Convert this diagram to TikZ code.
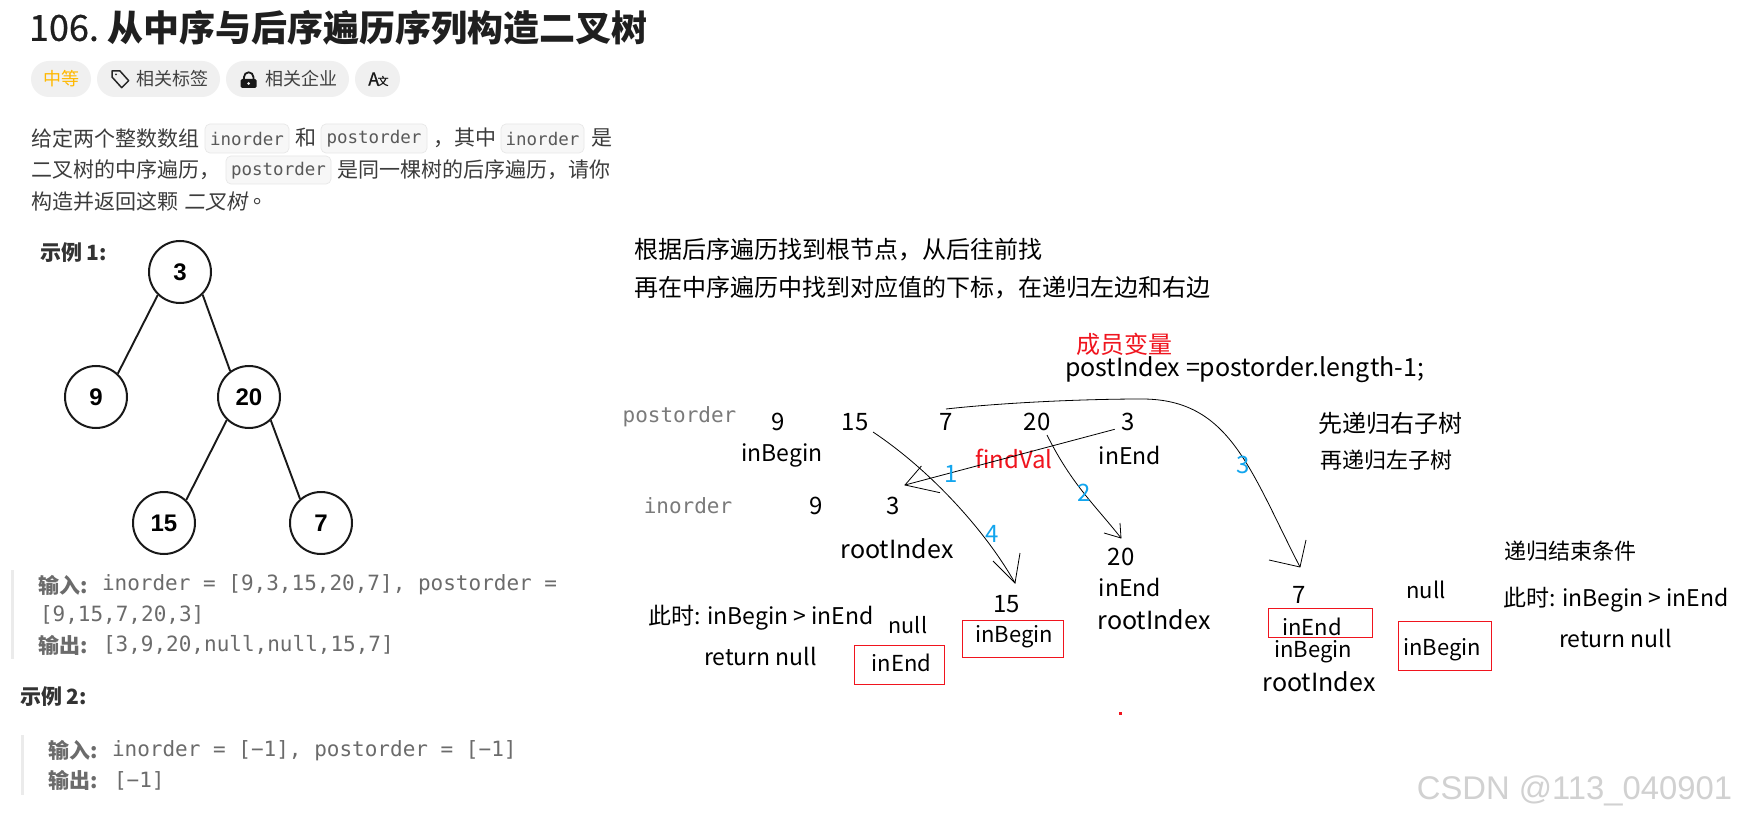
\documentclass[tikz,border=0pt]{standalone}
\usepackage{fontspec}
\setmainfont{Noto Sans CJK SC}
\setmonofont{DejaVu Sans Mono}
\newfontfamily\slantcjk[FakeSlant=0.18]{Noto Sans CJK SC}
\newfontfamily\medf[FakeBold=0.6]{Noto Sans CJK SC}
\newfontfamily\arialf{Liberation Sans}
\newcommand\pxs[1]{\fontsize{#1}{#1}\selectfont}
\definecolor{bodyc}{HTML}{3C3C3C}
\definecolor{pillc}{HTML}{F0F0F0}
\definecolor{chipc}{HTML}{F7F7F7}
\definecolor{chipb}{HTML}{E8E8E8}
\definecolor{quotec}{HTML}{6B6B6B}
\definecolor{barc}{HTML}{EBEBEB}
\definecolor{labelc}{HTML}{7A7A7A}
\definecolor{redc}{HTML}{F0141E}
\definecolor{bluec}{HTML}{12A5EE}
\definecolor{orangec}{HTML}{FFB800}
\tikzset{
  txt/.style={inner sep=0pt,outer sep=0pt,anchor=center,text=black,font=\pxs{23}},
  lefttxt/.style={txt,anchor=west},
  para/.style={lefttxt,text=bodyc,font=\pxs{21}},
  pill/.style={fill=pillc,draw=none,rounded corners=18pt},
  chip/.style={fill=chipc,draw=chipb,line width=.7pt,rounded corners=5pt},
  chiptxt/.style={txt,text=bodyc!85,font=\ttfamily\pxs{17.5}},
  quote/.style={lefttxt,text=quotec,font=\ttfamily\pxs{21}},
  quotehead/.style={lefttxt,text=quotec,font=\bfseries\pxs{21}},
  extitle/.style={lefttxt,text=black!80,font=\bfseries\pxs{21}},
  tree/.style={circle,draw=black!90,line width=2pt,fill=white,minimum size=62pt,inner sep=0pt,font=\arialf\bfseries\pxs{24}},
  treeedge/.style={draw=black!90,line width=1.9pt},
  nm/.style={txt,font=\pxs{24}},
  anno/.style={txt,font=\pxs{23}},
  redtxt/.style={txt,text=redc,font=\pxs{24}},
  steptxt/.style={txt,text=bluec,font=\pxs{24}},
  code/.style={txt,text=labelc,font=\ttfamily\pxs{21}},
  hand/.style={draw=black,line width=.8pt},
  redbox/.style={draw=redc,line width=1pt},
}
\begin{document}
\begin{tikzpicture}[x=1pt,y=-1pt]
\useasboundingbox (0,0) rectangle (1738,818);
\fill[white] (0,0) rectangle (1738,818);

% title
\node[lefttxt,text=black!88,font=\medf\pxs{36}] (tnum) at (29,28) {106.};
\node[lefttxt,text=black!88,font=\bfseries\pxs{36}] (ttl) at (107,28) {从中序与后序遍历序列构造二叉树};

% pills
\fill[pill] (31,61) rectangle (91,97);
\fill[pill] (97,61) rectangle (220,97);
\fill[pill] (226,61) rectangle (349,97);
\fill[pill] (355,61) rectangle (400,97);
\node[txt,text=orangec,font=\pxs{18}] (p1) at (61,79) {中等};
\node[lefttxt,text=black!75,font=\pxs{18}] (p2) at (136,79) {相关标签};
\node[lefttxt,text=black!75,font=\pxs{18}] (p3) at (265,79) {相关企业};
\draw[black!85,line width=1.5pt,line join=round] (112,71) -- (120,71) -- (128.7,80.7) -- (121.7,87.7) -- (112,77) -- cycle;
\fill[black!85] (116,74.5) circle[radius=1pt];
\fill[black!90,rounded corners=1.5pt] (240.7,79) rectangle (256.7,88);
\draw[black!90,line width=1.8pt] (244,79) -- (244,77) arc[start angle=180,end angle=0,radius=4.7pt] -- (253.4,79);
\fill[pillc] (248.7,83.5) circle[radius=1.5pt];
\node[txt,text=black!90,font=\medf\pxs{18}] (p4a) at (373.7,79) {A};
\node[txt,text=black!90,font=\medf\pxs{11}] (p4b) at (383,81) {文};

% paragraph
\node[para] (l1a) at (31,138) {给定两个整数数组};
\draw[chip] (205,124) rectangle (289,153);
\node[chiptxt] (c1) at (247,138.5) {inorder};
\node[para] (l1b) at (295,138) {和};
\draw[chip] (321,124) rectangle (427,153);
\node[chiptxt] (c2) at (374,138.5) {postorder};
\node[para] (l1c) at (433,138) {，其中};
\draw[chip] (501,124) rectangle (584,153);
\node[chiptxt] (c3) at (542.5,138.5) {inorder};
\node[para] (l1d) at (591,138) {是};
\node[para] (l2a) at (31,170) {二叉树的中序遍历，};
\draw[chip] (226,156) rectangle (331,184);
\node[chiptxt] (c4) at (278.5,170.5) {postorder};
\node[para] (l2b) at (337,170) {是同一棵树的后序遍历，请你};
\node[para] (l3a) at (31,202) {构造并返回这颗};
\node[para,font=\slantcjk\pxs{21}] (l3b) at (184,202) {二叉树};
\node[para] (l3c) at (253,202) {。};

% example 1 tree
\node[extitle] (ex1) at (40,253) {示例 1:};
\node[tree] (n3) at (180,272) {3};
\node[tree] (n9) at (96,397) {9};
\node[tree] (n20) at (249,397) {20};
\node[tree] (n15) at (164,523) {15};
\node[tree] (n7) at (321,523) {7};
\draw[treeedge] (n3.226) -- (n9.47);
\draw[treeedge] (n3.315) -- (n20.126);
\draw[treeedge] (n20.226) -- (n15.46);
\draw[treeedge] (n20.313) -- (n7.131);

% example 1 text
\fill[barc] (11,570) rectangle (14,659);
\node[quotehead] (q1) at (38,585) {输入:};
\node[quote] (q1t) at (102,585) {inorder = [9,3,15,20,7], postorder =};
\node[quote] (q2t) at (40,615) {[9,15,7,20,3]};
\node[quotehead] (q3) at (38,645) {输出:};
\node[quote] (q3t) at (103,645) {[3,9,20,null,null,15,7]};

% example 2
\node[extitle] (ex2) at (20,697) {示例 2:};
\fill[barc] (21,735) rectangle (24,795);
\node[quotehead] (q4) at (48,750) {输入:};
\node[quote] (q4t) at (112,751) {inorder = [−1], postorder = [−1]};
\node[quotehead] (q5) at (48,780) {输出:};
\node[quote] (q5t) at (114,781) {[−1]};

% notes
\node[lefttxt,font=\pxs{24}] (h1) at (634,250) {根据后序遍历找到根节点，从后往前找};
\node[lefttxt,font=\pxs{24}] (h2) at (634,288) {再在中序遍历中找到对应值的下标，在递归左边和右边};
\node[redtxt] (mem) at (1124.5,344) {成员变量};
\node[lefttxt,font=\pxs{25}] (pidx) at (1065,370) {postIndex =postorder.length-1;};

% postorder row
\node[code] (lpost) at (679.5,417) {postorder};
\node[nm] (a9) at (778,422) {9};
\node[nm] (a15) at (855,422) {15};
\node[nm] (a7) at (946,422) {7};
\node[nm] (a20) at (1037,422) {20};
\node[nm] (a3) at (1128,422) {3};
\node[anno] (ib1) at (782,455) {inBegin};
\node[redtxt] (fv) at (1014,459) {findVal};
\node[anno] (ie1) at (1130,455) {inEnd};

% inorder row
\node[code] (lin) at (688,506) {inorder};
\node[nm] (b9) at (816,506) {9};
\node[nm] (b3) at (893,506) {3};
\node[anno,font=\pxs{25}] (ri1) at (897,549) {rootIndex};

% right sub tree
\node[nm] (c20) at (1121,557) {20};
\node[anno] (ie2) at (1130,587) {inEnd};
\node[anno,font=\pxs{25}] (ri2) at (1154,620) {rootIndex};

% left
\node[nm] (c15) at (1006.5,604) {15};
\node[anno,font=\pxs{22}] (ib2) at (1014,637) {inBegin};
\draw[redbox] (962.5,620) rectangle (1063.5,657);
\node[anno,font=\pxs{21.5}] (nl1) at (908,625) {null};
\node[anno,font=\pxs{22}] (ie3) at (901.5,663) {inEnd};
\draw[redbox] (854,645) rectangle (944.5,684);
\node[lefttxt,font=\pxs{23}] (cs1) at (648,618) {此时: inBegin > inEnd};
\node[lefttxt,font=\pxs{23}] (rn1) at (704,656) {return null};

% seven
\node[nm] (c7) at (1299,595) {7};
\node[anno,font=\pxs{22}] (ie4) at (1312,627) {inEnd};
\draw[redbox] (1268,608) rectangle (1372,637);
\node[anno,font=\pxs{22}] (ib3) at (1313,652) {inBegin};
\node[anno,font=\pxs{25}] (ri3) at (1319,682) {rootIndex};
\node[anno,font=\pxs{22}] (nl2) at (1426,590) {null};
\node[anno,font=\pxs{22}] (ib4) at (1442,650) {inBegin};
\draw[redbox] (1398,621) rectangle (1491,670);

% right notes
\node[lefttxt,font=\pxs{24}] (n1) at (1318,423) {先递归右子树};
\node[lefttxt,font=\pxs{22}] (n2) at (1320,460) {再递归左子树};
\node[lefttxt,font=\pxs{22}] (end) at (1504,551) {递归结束条件};
\node[lefttxt,font=\pxs{23}] (cs2) at (1503,600) {此时: inBegin > inEnd};
\node[lefttxt,font=\pxs{23}] (rn2) at (1559,638) {return null};

% hand drawn connectors
\coordinate (s1) at (1114.7,429.3);
\coordinate (t1) at (905,485);
\coordinate (u1) at (921.4,466);
\coordinate (v1) at (940,492.7);
\draw[hand] (s1) -- (t1);
\draw[hand] (u1) -- (t1) -- (v1);

\coordinate (s2) at (1047,435);
\coordinate (t2) at (1121,538);
\coordinate (u2) at (1104,533);
\coordinate (v2) at (1120,523);
\draw[hand] (s2) .. controls (1072,485) and (1095,505) .. (t2);
\draw[hand] (u2) -- (t2) -- (v2);

\coordinate (s3) at (946,409);
\coordinate (m3) at (1142,399);
\coordinate (t3) at (1300,567);
\coordinate (u3) at (1269,560);
\coordinate (v3) at (1306,540);
\draw[hand] (s3) .. controls (1000,403) and (1080,399) .. (m3) .. controls (1230,399) and (1250,470) .. (t3);
\draw[hand] (u3) -- (t3) -- (v3);

\coordinate (s4) at (873,432);
\coordinate (t4) at (1015,583);
\coordinate (u4) at (993,561);
\coordinate (v4) at (1020,553);
\draw[hand] (s4) .. controls (930,470) and (985,530) .. (t4);
\draw[hand] (u4) -- (t4) -- (v4);

\node[steptxt] (k1) at (951,474) {1};
\node[steptxt] (k2) at (1084,493) {2};
\node[steptxt] (k3) at (1243,465) {3};
\node[steptxt] (k4) at (992,534) {4};

\fill[redc] (1119,712) rectangle (1121.5,714.5);

% watermark
\node[txt,text=black!18,font=\arialf\pxs{32.8}] (wm) at (1574.5,791) {CSDN @113\_040901};
\end{tikzpicture}
\end{document}
